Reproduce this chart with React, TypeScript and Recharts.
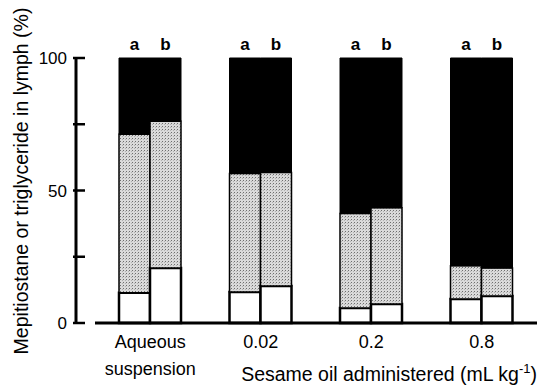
import { BarChart, Bar, XAxis, YAxis, LabelList } from 'recharts';

// dose groups along the x axis
const categories = ['Aqueous\nsuspension', '0.02', '0.2', '0.8'];

// bar a: white (bottom), dotted grey (middle), black (top), % of total
const whiteA = [11.4, 11.7, 5.7, 9.1];
const greyA = [59.8, 44.7, 35.6, 12.5];
const blackA = [28.8, 43.6, 58.7, 78.4];

// bar b
const whiteB = [20.8, 14.0, 7.2, 10.2];
const greyB = [55.3, 42.8, 36.3, 10.6];
const blackB = [23.9, 43.2, 56.5, 79.2];

const yTicks = [0, 25, 50, 75, 100];
const yLabelTicks = [0, 50, 100];

const data = categories.map((name, i) => ({
  name,
  whiteA: whiteA[i],
  greyA: greyA[i],
  blackA: blackA[i],
  whiteB: whiteB[i],
  greyB: greyB[i],
  blackB: blackB[i],
}));

const FONT = '"Liberation Sans", Arial, Helvetica, sans-serif';

const YTick = ({ x, y, payload }: any) => {
  const axisX = x + 9;
  return (
    <g>
      <line x1={axisX - 3} x2={axisX + 9} y1={y} y2={y} stroke="#000" strokeWidth={2.5} />
      {yLabelTicks.includes(payload.value) && (
        <text x={x} y={y} dy={6} textAnchor="end" fontSize={17} fontFamily={FONT} fill="#000">
          {payload.value}
        </text>
      )}
    </g>
  );
};

const XTick = ({ x, y, payload }: any) => {
  const lines = String(payload.value).split('\n');
  return (
    <text x={x} y={y} textAnchor="middle" fontSize={18} fontFamily={FONT} fill="#000">
      {lines.map((l, i) => (
        <tspan key={i} x={x} dy={i === 0 ? 25 : 27}>
          {l}
        </tspan>
      ))}
    </text>
  );
};

const XTitle = ({ viewBox }: any) => (
  <text
    x={viewBox.x + viewBox.width}
    y={viewBox.y + 58}
    textAnchor="end"
    fontSize={19.5}
    fontFamily={FONT}
    fill="#000"
  >
    Sesame oil administered (mL kg
    <tspan fontSize={13} dy={-8}>-1</tspan>
    <tspan dy={8}>)</tspan>
  </text>
);

const YTitle = () => {
  const cx = 28;
  const cy = 181;
  return (
    <text
      x={cx}
      y={cy}
      transform={`rotate(-90 ${cx} ${cy})`}
      textAnchor="middle"
      fontSize={19.5}
      fontFamily={FONT}
      fill="#000"
    >
      Mepitiostane or triglyceride in lymph (%)
    </text>
  );
};

const labelStyle = { fontSize: 17, fontWeight: 700, fontFamily: FONT, fill: '#000' };

export default function App() {
  return (
    <div style={{ position: 'absolute', left: 0, top: 0, background: '#fff' }}>
      <BarChart
        width={539}
        height={386}
        data={data}
        margin={{ top: 58, right: 2, bottom: 0, left: 0 }}
        barGap={0}
        barSize={31}
      >
        <defs>
          <pattern id="dots" width="3" height="3" patternUnits="userSpaceOnUse">
            <rect width="3" height="3" fill="#dadada" />
            <rect width="1" height="1" fill="#6e6e6e" />
            <rect x="2" y="1" width="1" height="1" fill="#b0b0b0" />
          </pattern>
        </defs>
        <XAxis
          dataKey="name"
          tick={<XTick />}
          tickLine={false}
          tickSize={0}
          tickMargin={0}
          padding={{ left: 19, right: 0 }}
          // baseline starts a little to the right of the y axis line
          axisLine={{ stroke: '#000', strokeWidth: 3, strokeDasharray: '0 19 1000' }}
          height={63}
          interval={0}
          label={<XTitle />}
        />
        <YAxis
          width={76}
          domain={[0, 100]}
          ticks={yTicks}
          interval={0}
          tickSize={0}
          tickMargin={9}
          tickLine={false}
          tick={<YTick />}
          axisLine={{ stroke: '#000', strokeWidth: 3 }}
          label={<YTitle />}
        />
        <Bar dataKey="whiteA" stackId="a" fill="#fff" stroke="#000" strokeWidth={2.5} isAnimationActive={false} />
        <Bar dataKey="greyA" stackId="a" fill="url(#dots)" stroke="#000" strokeWidth={1.5} isAnimationActive={false} />
        <Bar dataKey="blackA" stackId="a" fill="#000" stroke="#000" strokeWidth={1} isAnimationActive={false}>
          <LabelList position="top" offset={8} formatter={() => 'a'} style={labelStyle} />
        </Bar>
        <Bar dataKey="whiteB" stackId="b" fill="#fff" stroke="#000" strokeWidth={2.5} isAnimationActive={false} />
        <Bar dataKey="greyB" stackId="b" fill="url(#dots)" stroke="#000" strokeWidth={1.5} isAnimationActive={false} />
        <Bar dataKey="blackB" stackId="b" fill="#000" stroke="#000" strokeWidth={1} isAnimationActive={false}>
          <LabelList position="top" offset={8} formatter={() => 'b'} style={labelStyle} />
        </Bar>
      </BarChart>
    </div>
  );
}
